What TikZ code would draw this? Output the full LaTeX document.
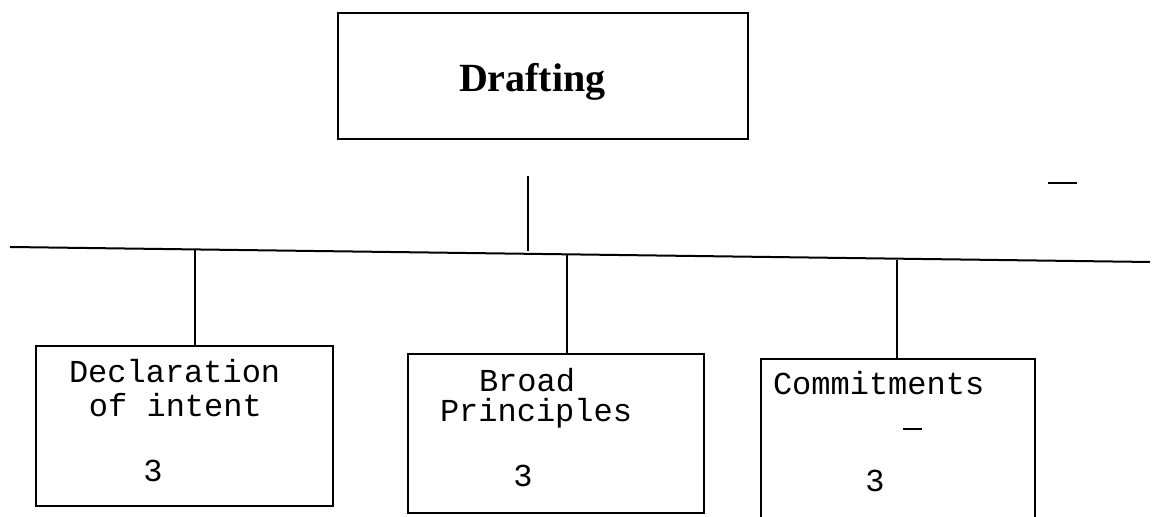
\documentclass[tikz,border=0pt]{standalone}
\usepackage{fontspec}
\setmainfont{Liberation Serif}
\setmonofont{Liberation Mono}
\tikzset{
  box/.style={draw,line width=1pt,inner sep=0pt,anchor=north west},
  mono/.style={font=\ttfamily\fontsize{16}{17}\selectfont,inner sep=0pt,anchor=base west},
  num/.style={font=\ttfamily\fontsize{16}{17}\selectfont,inner sep=0pt,anchor=base}
}
\begin{document}
\begin{tikzpicture}[x=0.5pt,y=-0.5pt,line width=1pt]
\useasboundingbox (0,0) rectangle (1164,517);
% top box
\node[box,minimum width=205pt,minimum height=63pt](draft) at (337,12){};
\node[font=\bfseries\fontsize{20}{24}\selectfont,inner sep=0pt,anchor=base west](drafttxt) at (458,92){Drafting};
% bar
\coordinate (barL) at (10,247);
\coordinate (barR) at (1150,262);
\coordinate (top) at (528,176);
\coordinate (mid) at (528,251);
\draw (barL)--(barR);
\draw (top)--(mid);
% lower boxes
\node[box,minimum width=148.5pt,minimum height=80pt](decl) at (35,345){};
\node[box,minimum width=148pt,minimum height=79.5pt](broad) at (407,353){};
\node[box,minimum width=137pt,minimum height=80pt](commit) at (760,358){};
\coordinate (b1) at (195,249);
\coordinate (b2) at (567,255);
\coordinate (b3) at (897,260);
\draw (b1)--(b1|-decl.north);
\draw (b2)--(b2|-broad.north);
\draw (b3)--(b3|-commit.north);
% texts
\node[mono](decl1) at (68,383){Declaration};
\node[mono](decl2) at (88,417){of intent};
\node[num](decl3) at (153,482){3};
\node[mono](broad1) at (478,392){Broad};
\node[mono](broad2) at (439,422){Principles};
\node[num](broad3) at (523,487){3};
\node[mono](commit1) at (772,395){Commitments};
\node[num](commit3) at (875,492){3};
% stray marks
\draw[line width=0.8pt](903,429)--(922,429);
\draw[line width=0.8pt](1048,183)--(1077,183);
\end{tikzpicture}
\end{document}
